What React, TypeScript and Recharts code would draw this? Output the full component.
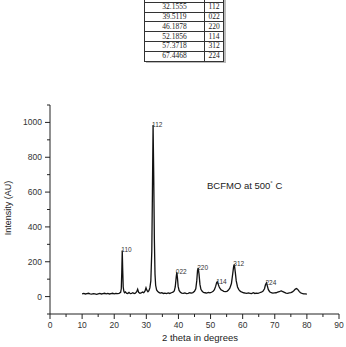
import { LineChart, Line, XAxis, YAxis, ReferenceDot } from 'recharts'

// 2 theta (deg) and intensity (AU)
const angles = [
  10.0, 10.5, 11.0, 11.5, 12.0, 12.5, 13.0, 13.5, 14.0, 14.5, 15.0, 15.5, 16.0, 16.5, 17.0, 17.5,
  18.0, 18.5, 19.0, 19.5, 20.0, 20.5, 21.0, 21.5, 22.0, 22.2, 22.35, 22.5, 22.65, 22.8, 23.0, 23.2,
  23.5, 23.8, 24.2, 24.6, 25.0, 25.4, 25.8, 26.2, 26.6, 27.0, 27.3, 27.6, 28.0, 28.4, 28.8, 29.2,
  29.6, 29.9, 30.2, 30.5, 30.8, 31.1, 31.4, 31.7, 31.9, 32.1, 32.3, 32.5, 32.7, 32.9, 33.2, 33.5,
  33.9, 34.3, 34.8, 35.3, 35.8, 36.3, 36.8, 37.3, 37.8, 38.3, 38.7, 39.0, 39.3, 39.5, 39.7, 39.9,
  40.2, 40.6, 41.0, 41.5, 42.0, 42.5, 43.0, 43.5, 44.0, 44.5, 45.0, 45.4, 45.7, 45.95, 46.15, 46.4,
  46.7, 47.0, 47.4, 47.8, 48.3, 48.8, 49.3, 49.8, 50.3, 50.8, 51.2, 51.6, 51.9, 52.1, 52.4, 52.7,
  53.0, 53.3, 53.7, 54.1, 54.6, 55.1, 55.5, 56.0, 56.5, 56.9, 57.2, 57.4, 57.7, 58.0, 58.4, 58.8,
  59.3, 59.8, 60.3, 60.8, 61.3, 61.8, 62.3, 62.8, 63.3, 63.8, 64.3, 64.8, 65.3, 65.8, 66.3, 66.8,
  67.1, 67.4, 67.7, 68.0, 68.4, 68.9, 69.4, 69.9, 70.4, 70.9, 71.4, 71.8, 72.1, 72.5, 73.0, 73.5,
  74.0, 74.5, 75.0, 75.5, 76.0, 76.4, 76.8, 77.2, 77.6, 78.0, 78.5, 79.0, 79.5, 80.0,
]
const intensity = [
  16, 18, 15, 17, 19, 16, 14, 17, 15, 13, 16, 18, 15, 17, 19, 16,
  18, 15, 17, 19, 16, 18, 17, 19, 24, 45, 140, 265, 150, 55, 30, 22,
  27, 20, 18, 24, 17, 19, 22, 18, 20, 28, 42, 24, 19, 21, 26, 22,
  32, 50, 35, 28, 34, 50, 90, 260, 600, 985, 700, 330, 130, 65, 38, 30,
  24, 20, 22, 18, 20, 17, 21, 18, 22, 25, 32, 55, 110, 140, 105, 60,
  35, 25, 20, 18, 21, 17, 19, 22, 20, 23, 30, 45, 90, 150, 165, 130,
  70, 42, 30, 24, 22, 20, 24, 21, 25, 30, 40, 60, 80, 85, 70, 55,
  45, 38, 35, 30, 28, 30, 36, 48, 75, 130, 175, 185, 140, 90, 55, 40,
  30, 25, 22, 20, 18, 21, 19, 17, 22, 18, 20, 19, 22, 25, 30, 45,
  68, 78, 60, 40, 28, 22, 20, 21, 22, 25, 28, 32, 33, 28, 24, 20,
  19, 21, 23, 27, 35, 43, 46, 40, 30, 22, 18, 16, 15, 14,
]

// labelled reflections
const peakHkl = ['110', '112', '022', '220', '114', '312', '224']
const peakAngle = [22.5, 32.1, 39.5, 46.15, 52.1, 57.4, 67.4]
const peakTop = [265, 985, 140, 165, 85, 185, 78]

// table above the chart
const tableAngle = ['22.5436', '32.1555', '39.5119', '46.1878', '52.1856', '57.3718', '67.4468']
const tableHkl = ['110', '112', '022', '220', '114', '312', '224']

const xTicks = [0, 5, 10, 15, 20, 25, 30, 35, 40, 45, 50, 55, 60, 65, 70, 75, 80, 85, 90]
const yTicks = [-100, 0, 100, 200, 300, 400, 500, 600, 700, 800, 900, 1000, 1100]

const data = angles.map((a, i) => ({ angle: a, value: intensity[i] }))

const font = '"Liberation Sans", Arial, sans-serif'

function XTick({ x, y, payload }: any) {
  const major = payload.value % 10 === 0
  return (
    <g>
      <line x1={x} x2={x} y1={y} y2={y + (major ? 5 : 3)} stroke="#222" />
      {major && (
        <text x={x} y={y + 14} textAnchor="middle" fontSize={8.5} fill="#333" fontFamily={font}>
          {payload.value}
        </text>
      )}
    </g>
  )
}

function YTick({ x, y, payload }: any) {
  const v = payload.value
  const major = v % 200 === 0
  return (
    <g>
      <line x1={x} x2={x - (major ? 5 : 3)} y1={y} y2={y} stroke="#222" />
      {major && (
        <text x={x - 8} y={y + 3} textAnchor="end" fontSize={8.5} fill="#333" fontFamily={font}>
          {v}
        </text>
      )}
    </g>
  )
}

const cell = { border: '1px solid #333', height: 8.8, padding: 0, textAlign: 'center' as const }

export default function App() {
  return (
    <div style={{ position: 'absolute', left: 0, top: 0, width: 346, height: 347, background: '#fff' }}>
      <table
        style={{
          position: 'absolute', left: 144, top: -8, borderCollapse: 'collapse',
          fontFamily: '"Liberation Serif", serif', fontSize: 7.5, lineHeight: '8px',
          color: '#222', boxShadow: '2px 1px 0 #bbb',
        }}
      >
        <tbody>
          {tableAngle.map((a, i) => (
            <tr key={a}>
              <td style={{ ...cell, width: 59 }}>{a}</td>
              <td style={{ ...cell, width: 18 }}>{tableHkl[i]}</td>
            </tr>
          ))}
        </tbody>
      </table>

      <LineChart width={346} height={347} data={data} margin={{ top: 105, right: 7, left: 10, bottom: 3 }}>
        <XAxis
          dataKey="angle" type="number" domain={[0, 90]} ticks={xTicks}
          tick={<XTick />} tickSize={0} tickMargin={0} height={30}
          axisLine={{ stroke: '#222' }} interval={0}
        />
        <YAxis
          type="number" domain={[-100, 1100]} ticks={yTicks}
          tick={<YTick />} tickSize={0} tickMargin={0} width={40}
          axisLine={{ stroke: '#222' }} interval={0}
        />
        <Line
          dataKey="value" stroke="#111" strokeWidth={1.3} dot={false}
          isAnimationActive={false} type="linear"
        />
        {peakHkl.map((h, i) => (
          <ReferenceDot
            key={h} x={peakAngle[i]} y={peakTop[i]} r={0}
            shape={(p: any) => (
              <text x={p.cx - 1} y={p.cy + 2} fontSize={6.5} fill="#333" fontFamily={font}>{h}</text>
            )}
          />
        ))}
      </LineChart>

      <div style={{ position: 'absolute', left: 207, top: 180, fontFamily: font, fontSize: 9.5, color: '#222', whiteSpace: 'nowrap' }}>
        BCFMO at 500<sup style={{ fontSize: 6 }}>°</sup> C
      </div>
      <div style={{ position: 'absolute', left: 150, top: 332, width: 100, textAlign: 'center', fontFamily: font, fontSize: 9.5, color: '#222', whiteSpace: 'nowrap' }}>
        2 theta in degrees
      </div>
      <div
        style={{
          position: 'absolute', left: 8, top: 208, fontFamily: font, fontSize: 9, color: '#222',
          whiteSpace: 'nowrap', transform: 'translate(-50%, -50%) rotate(-90deg)',
        }}
      >
        Intensity (AU)
      </div>
    </div>
  )
}
